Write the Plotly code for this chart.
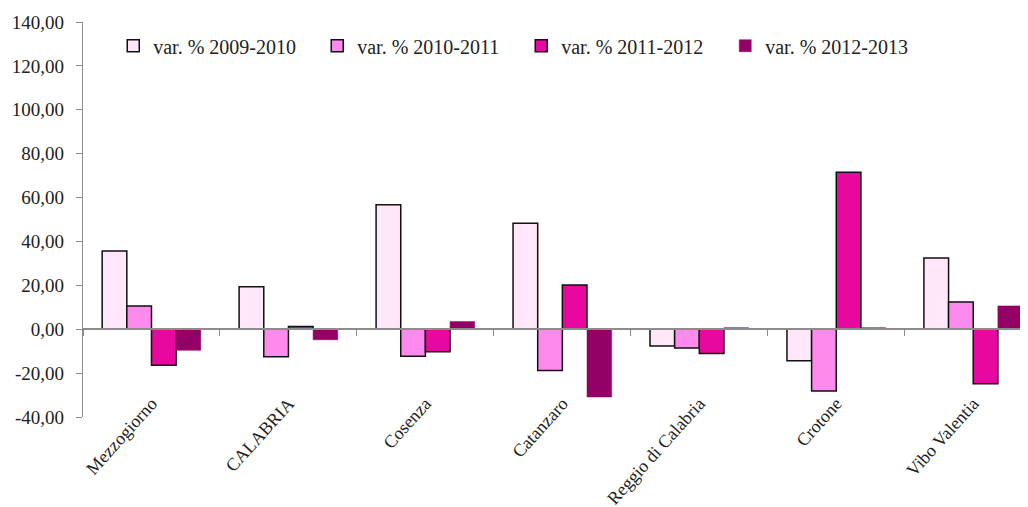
import plotly.graph_objs as go

categories = ["Mezzogiorno", "CALABRIA", "Cosenza", "Catanzaro", "Reggio di Calabria", "Crotone", "Vibo Valentia"]
series_names = ["var. % 2009-2010", "var. % 2010-2011", "var. % 2011-2012", "var. % 2012-2013"]
var_2009_2010 = [35.6, 19.3, 56.7, 48.3, -7.7, -14.4, 32.4]
var_2010_2011 = [10.6, -12.6, -12.3, -18.8, -8.5, -28.1, 12.4]
var_2011_2012 = [-16.4, 1.2, -10.3, 20.2, -11.1, 71.5, -24.9]
var_2012_2013 = [-9.6, -4.8, 3.5, -30.9, 0.7, 0.7, 10.6]
y_ticks = [-40, -20, 0, 20, 40, 60, 80, 100, 120, 140]
y_tick_labels = ["-40,00", "-20,00", "0,00", "20,00", "40,00", "60,00", "80,00", "100,00", "120,00", "140,00"]

fill_colors = ["#FFE6F8", "#FF8AEE", "#E8079F", "#930066"]
line_colors = ["#111111", "#111111", "#111111", "#930066"]
line_widths = [1.5, 1.5, 1.5, 0.5]

SERIF = "'Liberation Serif', 'Times New Roman', 'DejaVu Serif', serif"

fig = go.Figure()
for name, vals, fc, lc, lw in zip(series_names, [var_2009_2010, var_2010_2011, var_2011_2012, var_2012_2013],
                                  fill_colors, line_colors, line_widths):
    fig.add_trace(go.Bar(x=categories, y=vals, name=name,
                         marker=dict(color=fc, line=dict(color=lc, width=lw))))

y_min, y_max = y_ticks[0], y_ticks[-1]

# page body has an 8px margin, so the figure is shrunk and shifted to match
fig.update_layout(
    width=1020, height=499,
    barmode="group", bargap=0.28, bargroupgap=0,
    font=dict(family=SERIF, size=17, color="#222222"),
    paper_bgcolor="white", plot_bgcolor="white",
    margin=dict(l=75, r=0, t=14, b=90, autoexpand=False),
    legend=dict(orientation="h", x=0.032, y=0.94, xanchor="left", yanchor="middle",
                font=dict(family=SERIF, size=20), entrywidth=159, bgcolor="rgba(0,0,0,0)",
                itemclick=False),
)

fig.update_yaxes(range=[y_min, y_max], tickvals=y_ticks, ticktext=y_tick_labels,
                 showgrid=False, zeroline=False,
                 showline=True, linecolor="#8c8c8c", linewidth=1.2, automargin=False,
                 ticks="outside", ticklen=6, tickcolor="#8c8c8c", ticklabelstandoff=8,
                 tickfont=dict(family=SERIF, size=19))

fig.update_xaxes(range=[-0.5, 6.4], anchor="free", position=(0 - y_min) / (y_max - y_min),
                 showline=True, linecolor="#8c8c8c", linewidth=1.5, showgrid=False, automargin=False,
                 ticks="outside", ticklen=6, tickcolor="#8c8c8c", tickson="boundaries",
                 tickangle=-48, ticklabelstandoff=56, tickfont=dict(family=SERIF, size=18))

fig.write_html("out.html")
